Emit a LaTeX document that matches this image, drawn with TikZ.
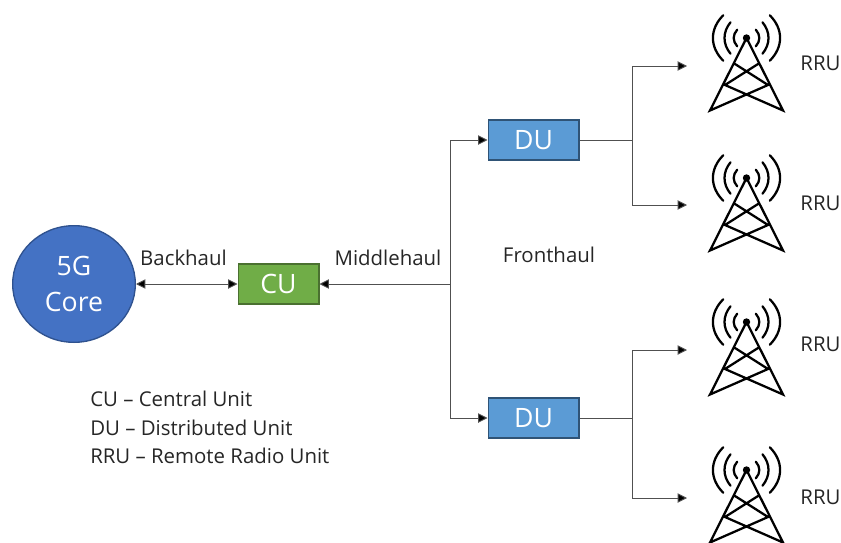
\documentclass[tikz,border=0pt]{standalone}
\usepackage{fontspec}
\setmainfont{Open Sans}
\usetikzlibrary{arrows.meta,shapes.geometric}
\definecolor{coreblue}{HTML}{4472C4}
\definecolor{coreedge}{HTML}{2F528F}
\definecolor{cugreen}{HTML}{70AD47}
\definecolor{cuedge}{HTML}{4A7030}
\definecolor{dublue}{HTML}{5B9BD5}
\definecolor{duedge}{HTML}{2F5376}
\definecolor{linkgrey}{HTML}{505050}
\definecolor{textgrey}{HTML}{262626}
\tikzset{
  x=0.75pt,y=-0.75pt,
  lbl/.style={inner sep=0pt,text=textgrey,font=\fontsize{15.3pt}{18pt}\selectfont},
  box/.style={draw,line width=1pt,minimum height=30pt,inner sep=0pt,text=white,font=\fontsize{20pt}{24pt}\selectfont},
  dubox/.style={box,fill=dublue,draw=duedge,minimum width=68pt},
  cubox/.style={box,fill=cugreen,draw=cuedge,minimum width=60.5pt},
  link/.style={draw=linkgrey,line width=0.7pt},
  tip/.style={-{Triangle[length=7pt,width=7pt,fill=black]}},
  pics/tower/.style={code={
    \draw[line width=1.7pt,line join=miter,black]
      (0,0)--(-36.5,72.5)--(21.5,47)--(-11.5,26)
      (0,0)--(36.5,72.5)--(-21.5,47)--(11.5,26);
    \fill[black] (0,0) circle[radius=3.7];
    \foreach \s in {-1,1}{
      \draw[line width=1.7pt,line cap=round] (\s*9.3,-8.3) .. controls (\s*14,-3) and (\s*14,3) .. (\s*9.3,8.3);
      \draw[line width=1.7pt,line cap=round] (\s*16,-15.7) .. controls (\s*24,-6) and (\s*24,6) .. (\s*16,15.7);
      \draw[line width=1.7pt,line cap=round] (\s*23.3,-22.7) .. controls (\s*37,-9) and (\s*37,9) .. (\s*23.3,22.7);
    }
  }}
}
\begin{document}
\begin{tikzpicture}
\useasboundingbox (0,0) rectangle (841,542);
\node[ellipse,draw=coreedge,line width=1pt,fill=coreblue,minimum width=92pt,minimum height=87.5pt,inner sep=0pt,text=white,align=center,font=\fontsize{20pt}{27.5pt}\selectfont] (core) at (74,284) {5G\\Core};
\node[cubox] (cu) at (278.5,284) {CU};
\node[dubox] (du1) at (533.5,140) {DU};
\node[dubox] (du2) at (533.5,418) {DU};
\coordinate (j) at (450,284);
\coordinate (f1) at (632,140);
\coordinate (f2) at (632,418);
\coordinate (a1) at (687,66);
\coordinate (a2) at (687,205);
\coordinate (a3) at (687,350);
\coordinate (a4) at (687,498);
\pic at (746.5,38) {tower};
\pic at (746.5,178) {tower};
\pic at (746.5,322) {tower};
\pic at (746.5,470) {tower};
\node[lbl] (r1) at (820.5,63) {RRU};
\node[lbl] (r2) at (820.5,203) {RRU};
\node[lbl] (r3) at (820.5,344) {RRU};
\node[lbl] (r4) at (820.5,497) {RRU};
\node[lbl] (bh) at (183.5,257.5) {Backhaul};
\node[lbl] (mh) at (388,258) {Middlehaul};
\node[lbl] (fh) at (549,255) {Fronthaul};
\node[lbl,anchor=west] (l1) at (90,399) {CU – Central Unit};
\node[lbl,anchor=west] (l2) at (90,427.5) {DU – Distributed Unit};
\node[lbl,anchor=west] (l3) at (90,455.5) {RRU – Remote Radio Unit};
\draw[link,{Triangle[length=7pt,width=7pt,fill=black]}-{Triangle[length=7pt,width=7pt,fill=black]}] (core.east) -- (cu.west);
\draw[link,tip] (j) -- (cu.east);
\draw[link,tip] (j) |- (du1.west);
\draw[link,tip] (j) |- (du2.west);
\draw[link] (du1.east) -- (f1);
\draw[link] (du2.east) -- (f2);
\draw[link,tip] (f1) |- (a1);
\draw[link,tip] (f1) |- (a2);
\draw[link,tip] (f2) |- (a3);
\draw[link,tip] (f2) |- (a4);
\end{tikzpicture}
\end{document}
